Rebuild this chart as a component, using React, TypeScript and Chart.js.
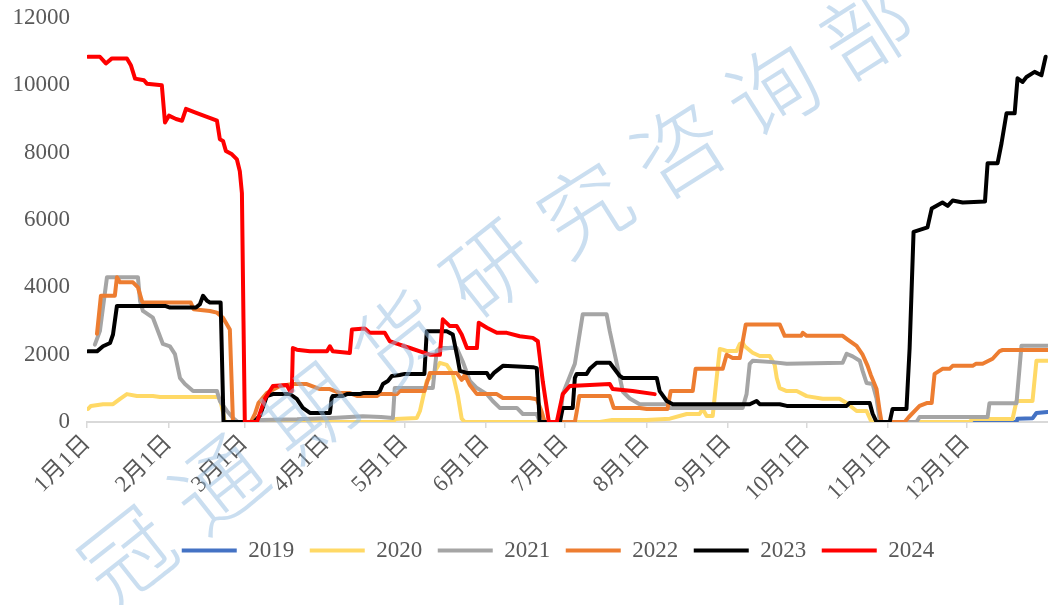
import React, { useEffect, useRef } from 'react';
import { Chart, registerables } from 'chart.js';

Chart.register(...registerables);

const FONT = '"Liberation Serif", "Noto Sans CJK SC", serif';
const TEXT_COLOR = '#595959';

const MONTH_LABELS = ['1月1日', '2月1日', '3月1日', '4月1日', '5月1日', '6月1日', '7月1日', '8月1日', '9月1日', '10月1日', '11月1日', '12月1日'];
const MONTH_DAYS = [0, 31, 60, 91, 121, 152, 182, 213, 244, 274, 305, 335];
const Y_TICKS = [0, 2000, 4000, 6000, 8000, 10000, 12000];

const YEARS = ['2019', '2020', '2021', '2022', '2023', '2024'];
const COLORS = ['#4472c4', '#ffd966', '#a5a5a5', '#ed7d31', '#000000', '#ff0000'];

// [day of year, value]
const S2019: [number, number][] = [
  [317.1, 0], [354.0, 0], [354.4, 100], [360.1, 110], [361.6, 270], [365.8, 300],
];

const S2020: [number, number][] = [
  [0.4, 390], [1.5, 480], [6.1, 530], [9.9, 530], [12.6, 690], [15.2, 830], [19.0, 775], [25.1, 775],
  [27.8, 745], [49.5, 745], [50.6, 700], [51.8, 300], [52.5, 0], [116.5, 0], [117.5, 90], [125.6, 120],
  [126.8, 330], [129.4, 1220], [131.7, 1400], [134.4, 1760], [137.0, 1700], [139.3, 1430], [141.2, 800],
  [142.7, 100], [143.9, 0], [195.3, 0], [200, 60], [213, 60], [222, 100], [228.4, 240], [233.3, 240],
  [234.5, 390], [236.0, 180], [238.3, 180], [239.8, 1310], [241.0, 2170], [242.1, 2150], [243.6, 2110],
  [247.4, 2110], [248.6, 2320], [249.7, 2350], [250.5, 2250], [253.5, 2060], [256.2, 1960], [260.0, 1960],
  [261.9, 1700], [262.7, 1310], [263.8, 1010], [266.5, 920], [270.3, 920], [274.1, 770], [280.2, 690],
  [286.6, 690], [289.3, 565], [293.1, 330], [296.9, 330], [298.8, 0], [336.1, 0], [337.3, 90], [352.5, 90],
  [354.0, 625], [360.1, 625], [361.6, 1820], [365.8, 1820],
];

const S2021: [number, number][] = [
  [3.0, 2300], [4.9, 2700], [7.6, 4300], [19.4, 4300], [20.2, 3600], [21.3, 3300], [25.1, 3100], [28.9, 2320],
  [31.6, 2250], [33.5, 2020], [35.4, 1310], [37.3, 1130], [40.4, 920], [49.5, 920], [50.6, 625], [53.3, 330],
  [55.6, 120], [57.5, 0], [62.0, 0], [66, 60], [80, 80], [95, 130], [105, 170], [112, 150], [116.5, 120],
  [117.2, 1010], [131.7, 1010], [133.2, 2110], [134.4, 2200], [140.8, 2200], [143.1, 1800], [145.8, 1220],
  [148.5, 1010], [152.3, 830], [154.5, 625], [157.2, 420], [163.7, 420], [166.0, 240], [171.3, 240], [172.4, 0],
  [180.1, 0], [181.2, 830], [185.8, 1730], [188.8, 3200], [197.9, 3200], [199.1, 2700], [201.8, 1730],
  [204.1, 900], [206.7, 700], [210.5, 530], [220.8, 530], [221.9, 420], [249.7, 420], [251.2, 830],
  [252.4, 1730], [253.5, 1820], [261.1, 1780], [266.5, 1730], [287.8, 1760], [289.3, 2030], [291.6, 1950],
  [294.3, 1820], [295.4, 1520], [296.9, 1160], [299.2, 1130], [300.7, 700], [302, 0], [315.9, 0], [317.1, 150],
  [343.0, 150], [343.7, 560], [354.0, 560], [355.9, 2270], [365.8, 2270],
];

const S2022: [number, number][] = [
  [3.8, 2620], [5.3, 3750], [10.6, 3750], [11.4, 4300], [12.6, 4150], [17.5, 4150], [19.4, 4000], [20.9, 3600],
  [21.3, 3550], [39.5, 3550], [40.6, 3350], [46.8, 3300], [49.5, 3250], [51.8, 3100], [53.3, 2900], [54.4, 2750],
  [55.6, 0], [62.4, 0], [64.0, 250], [65.3, 565], [68.5, 860], [73.5, 1070], [78.4, 1130], [83.7, 1130],
  [88.7, 980], [92.5, 980], [96.3, 860], [100.1, 860], [102.8, 775], [110.4, 775], [111.5, 830], [118.0, 830],
  [119.1, 920], [128.5, 920], [130.6, 1460], [140.8, 1460], [142.7, 1250], [143.9, 1400], [145.8, 1100],
  [148.5, 830], [156.1, 830], [158.4, 715], [168.6, 715], [171.3, 680], [173.2, 300], [174.3, 0], [185.8, 0],
  [186.5, 300], [187.5, 775], [199.1, 775], [200.6, 420], [210.5, 420], [213.2, 390], [221.1, 390],
  [222.3, 920], [230.7, 920], [231.8, 1580], [242.1, 1580], [243.6, 2000], [245.9, 1900], [248.6, 1900],
  [250.9, 2900], [263.8, 2900], [265.7, 2560], [272.0, 2560], [272.6, 2650], [274.1, 2560], [287.8, 2560],
  [289.7, 2450], [293.1, 2260], [295.4, 2000], [297.3, 1670], [298.5, 1400], [300.7, 980], [301.9, 330],
  [302.6, 0], [311.4, 0], [313.0, 150], [317.1, 480], [319.8, 565], [321.7, 565], [322.8, 1430], [325.8, 1580],
  [328.5, 1580], [329.7, 1670], [337.3, 1670], [338.5, 1730], [341.1, 1730], [344.9, 1880], [347.6, 2110],
  [348.7, 2140], [365.8, 2140],
];

const S2023: [number, number][] = [
  [0.4, 2100], [3.8, 2100], [6.1, 2250], [8.8, 2350], [9.9, 2600], [11.4, 3450], [29.7, 3450], [31.6, 3400],
  [41.5, 3400], [43.0, 3500], [44.2, 3750], [45.7, 3600], [46.8, 3550], [50.9, 3550], [52.0, 0], [63.6, 0],
  [65.9, 200], [68.5, 770], [70.8, 830], [77.3, 830], [79.9, 690], [82.2, 420], [84.9, 270], [92.5, 270],
  [93.2, 715], [93.6, 775], [97.4, 775], [99.0, 830], [103.9, 830], [105.1, 860], [110.4, 860], [111.5, 920],
  [112.7, 1130], [114.6, 1220], [116.1, 1370], [119.1, 1400], [121, 1430], [128.5, 1430], [129.4, 2700],
  [137.0, 2700], [139.3, 2600], [141.2, 1870], [142.0, 1520], [144.7, 1460], [152.3, 1460], [153.4, 1310],
  [155.0, 1460], [158.4, 1670], [169.8, 1630], [171.3, 1600], [172.4, 0], [180.1, 0], [181.2, 420], [185.0, 420],
  [185.8, 1310], [186.5, 1430], [190.3, 1430], [191.5, 1580], [194.1, 1760], [199.1, 1760], [202.9, 1370],
  [204.1, 1310], [217.0, 1310], [218.1, 920], [220.8, 625], [223.1, 530], [252.4, 530], [255.0, 625],
  [256.2, 530], [263.8, 530], [266.5, 480], [289.3, 480], [290.4, 565], [298.1, 565], [299.2, 250], [300.7, 0],
  [305.7, 0], [306.8, 390], [312.1, 390], [313.3, 2200], [314.0, 3800], [314.8, 5650], [320.1, 5780],
  [321.7, 6340], [325.8, 6520], [327.8, 6420], [329.7, 6580], [333.5, 6520], [342, 6550], [343, 7690],
  [346.8, 7690], [348.3, 8280], [350.2, 9170], [353.3, 9170], [354.4, 10210], [356.3, 10100], [357.8, 10250],
  [360.9, 10400], [363.5, 10300], [365.1, 10850],
];

const S2024: [number, number][] = [
  [0.4, 10850], [4.9, 10850], [7.2, 10650], [9.5, 10800], [15.2, 10800], [16.7, 10600], [18.3, 10200],
  [21.7, 10150], [22.8, 10050], [28.5, 10000], [29.7, 8900], [31.2, 9100], [33.9, 9000], [36.2, 8950],
  [37.7, 9300], [41.1, 9200], [49.5, 8950], [50.6, 8400], [51.8, 8350], [52.9, 8050], [55.2, 7950],
  [57.1, 7800], [58.2, 7450], [59.0, 6800], [59.6, 3000], [60.1, 0], [64.7, 0], [67.8, 700], [70.8, 1070],
  [76.1, 1100], [77.3, 920], [78.0, 920], [78.4, 2200], [79.9, 2150], [84.9, 2100], [91.4, 2100], [92.5, 2250],
  [93.6, 2100], [100.1, 2050], [100.9, 2750], [105.8, 2780], [107.7, 2650], [113.4, 2650], [115.3, 2400],
  [119.1, 2300], [123.0, 2200], [126.8, 2100], [130.6, 2000], [134.4, 2000], [135.5, 3050], [138.2, 2850],
  [140.8, 2850], [142.7, 2600], [144.7, 2200], [148.5, 2200], [149.2, 2950], [152.3, 2800], [156.1, 2650],
  [159.9, 2650], [164.8, 2550], [169.8, 2500], [171.7, 2400], [173.6, 1200], [175.9, 0], [178.9, 0],
  [181.2, 830], [183.9, 1070], [191.5, 1100], [199.1, 1130], [200.2, 980], [207.8, 920], [216.2, 830],
];

const SERIES = [S2019, S2020, S2021, S2022, S2023, S2024];
const WATERMARK = '冠通期货研究咨询部';

const watermarkPlugin = {
  id: 'watermark',
  afterDraw(chart: any) {
    const ctx = chart.ctx as CanvasRenderingContext2D;
    const chars = Array.from(WATERMARK);
    // two guide segments: first char -> middle char -> last char
    const a = { x: 127, y: 555 };
    const m = { x: 490, y: 268 };
    const b = { x: 866, y: 30 };
    const mid = (chars.length - 1) / 2;
    ctx.save();
    ctx.fillStyle = 'rgba(150,190,226,0.5)';
    ctx.font = '200 90px "Noto Sans CJK SC"';
    ctx.textAlign = 'center';
    ctx.textBaseline = 'middle';
    chars.forEach((c, i) => {
      let px: number, py: number, ang: number;
      if (i <= mid) {
        const t = i / mid;
        px = a.x + (m.x - a.x) * t;
        py = a.y + (m.y - a.y) * t;
        ang = Math.atan2(m.y - a.y, m.x - a.x);
      } else {
        const t = (i - mid) / mid;
        px = m.x + (b.x - m.x) * t;
        py = m.y + (b.y - m.y) * t;
        ang = Math.atan2(b.y - m.y, b.x - m.x);
      }
      ctx.save();
      ctx.translate(px, py);
      ctx.rotate(ang);
      ctx.fillText(c, 0, 0);
      ctx.restore();
    });
    ctx.restore();
  },
};

// shift the bottom legend so that it is centred like the original
const legendShiftPlugin = {
  id: 'legendShift',
  afterLayout(chart: any) {
    if (chart.legend) {
      chart.legend.left += 68;
    }
  },
};

export default function App() {
  const ref = useRef<HTMLCanvasElement>(null);
  useEffect(() => {
    if (!ref.current) return;
    const chart = new Chart(ref.current, {
      type: 'line',
      data: {
        datasets: YEARS.map((label, i) => ({
          label,
          data: SERIES[i].map(([x, y]) => ({ x, y })),
          borderColor: COLORS[i],
          backgroundColor: COLORS[i],
          borderWidth: 4,
          pointRadius: 0,
          pointHoverRadius: 0,
          tension: 0,
          fill: false,
          borderJoinStyle: 'round' as const,
          borderCapStyle: 'round' as const,
          order: YEARS.length - 1 - i,
        })),
      },
      options: {
        responsive: false,
        animation: false,
        layout: { padding: { left: 0, right: 0, top: 18, bottom: 33 } },
        plugins: {
          legend: {
            position: 'bottom',
            labels: {
              boxWidth: 55,
              boxHeight: 4,
              padding: 15.5,
              color: TEXT_COLOR,
              font: { size: 23, family: FONT },
              sort: (a: any, b: any) => a.datasetIndex - b.datasetIndex,
              generateLabels: (c: any) =>
                (Chart.defaults.plugins.legend.labels as any).generateLabels(c).map((l: any) => ({ ...l, lineWidth: 0 })),
            },
          },
          tooltip: { enabled: false },
        },
        scales: {
          x: {
            type: 'linear',
            min: 0,
            max: 366,
            afterBuildTicks: (s: any) => {
              s.ticks = MONTH_DAYS.map((v) => ({ value: v }));
            },
            afterFit: (s: any) => {
              s.height = s.height + 15;
            },
            ticks: {
              autoSkip: false,
              minRotation: 45,
              maxRotation: 45,
              padding: 2,
              color: TEXT_COLOR,
              font: { size: 23, family: FONT },
              callback: (_v: any, i: number) => MONTH_LABELS[i],
            },
            grid: { drawOnChartArea: false, drawTicks: true, tickLength: 6, color: '#d9d9d9', lineWidth: 1.5 },
            border: { display: true, color: '#d9d9d9', width: 2 },
          },
          y: {
            min: 0,
            max: 12000,
            afterBuildTicks: (s: any) => {
              s.ticks = Y_TICKS.map((v) => ({ value: v }));
            },
            afterFit: (s: any) => {
              s.width = 87;
              s.paddingTop = 0;
              s.paddingBottom = 0;
            },
            ticks: {
              padding: 17,
              color: TEXT_COLOR,
              font: { size: 23, family: FONT },
              callback: (v: any) => String(v),
            },
            grid: { display: false, drawTicks: false },
            border: { display: false },
          },
        },
      },
      plugins: [watermarkPlugin, legendShiftPlugin],
    } as any);
    return () => chart.destroy();
  }, []);
  return (
    <div style={{ position: 'absolute', left: 0, top: 0, width: 1048, height: 605, background: '#fff' }}>
      <canvas ref={ref} width={1048} height={605} style={{ display: 'block' }} />
    </div>
  );
}
